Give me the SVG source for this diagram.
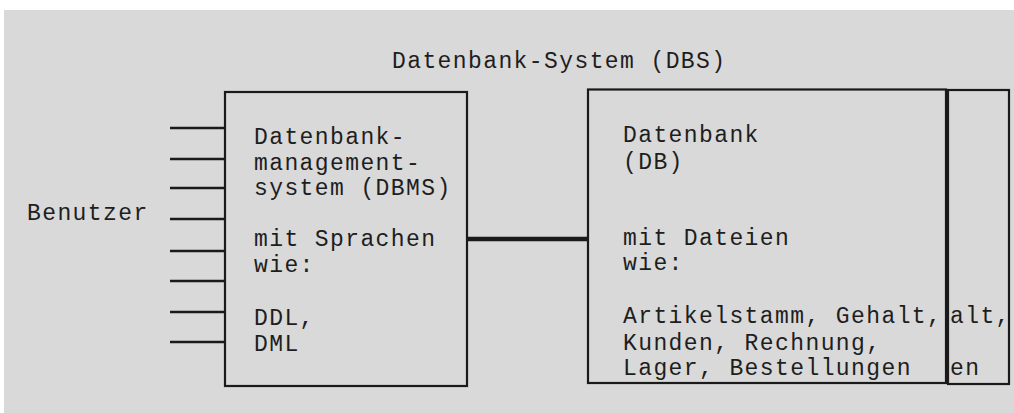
<svg xmlns="http://www.w3.org/2000/svg" width="1014" height="413" viewBox="0 0 1014 413">
  <style>
    .box { fill: none; stroke: #1a1a1a; stroke-width: 2.2; }
    .lead { stroke: #1a1a1a; stroke-width: 2.6; }
    .bus { stroke: #1a1a1a; stroke-width: 4.5; }
    text { font-family: "Liberation Mono", "Courier New", monospace; font-size: 23px; letter-spacing: 1.4px; fill: #1e1e1e; }
  </style>
  <rect x="0" y="0" width="1014" height="413" fill="#ffffff"/>
  <rect x="4" y="10" width="1010" height="403" fill="#d9d9d9"/>

  <g id="title">
    <text x="392" y="68">Datenbank-System (DBS)</text>
  </g>

  <g id="benutzer">
    <text x="27" y="220">Benutzer</text>
  </g>

  <g id="dbms">
    <rect class="box" x="225" y="92" width="242" height="294"/>
    <text x="254" y="144">Datenbank-</text>
    <text x="254" y="169.5">management-</text>
    <text x="254" y="195">system (DBMS)</text>
    <text x="254" y="246">mit Sprachen</text>
    <text x="254" y="272">wie:</text>
    <text x="254" y="325">DDL,</text>
    <text x="254" y="351">DML</text>
  </g>

  <g id="db">
    <rect class="box" x="588" y="89.5" width="358" height="293.5"/>
    <text x="623" y="142">Datenbank</text>
    <text x="623" y="169">(DB)</text>
    <text x="623" y="245">mit Dateien</text>
    <text x="623" y="270">wie:</text>
    <text x="623" y="323">Artikelstamm, Gehalt,</text>
    <text x="623" y="350">Kunden, Rechnung,</text>
    <text x="623" y="375">Lager, Bestellungen</text>
  </g>

  <g id="db-overflow">
    <rect class="box" x="948" y="90" width="61" height="294"/>
    <text x="950" y="323">alt,</text>
    <text x="950" y="375">en</text>
  </g>

  <g id="connectors">
    <line class="lead" x1="170" y1="128" x2="225" y2="128"/>
    <line class="lead" x1="170" y1="159" x2="225" y2="159"/>
    <line class="lead" x1="170" y1="188" x2="225" y2="188"/>
    <line class="lead" x1="170" y1="219" x2="225" y2="219"/>
    <line class="lead" x1="170" y1="251" x2="225" y2="251"/>
    <line class="lead" x1="170" y1="281" x2="225" y2="281"/>
    <line class="lead" x1="170" y1="312" x2="225" y2="312"/>
    <line class="lead" x1="170" y1="342" x2="225" y2="342"/>
    <line class="bus" x1="467" y1="239" x2="588" y2="239"/>
  </g>
</svg>
